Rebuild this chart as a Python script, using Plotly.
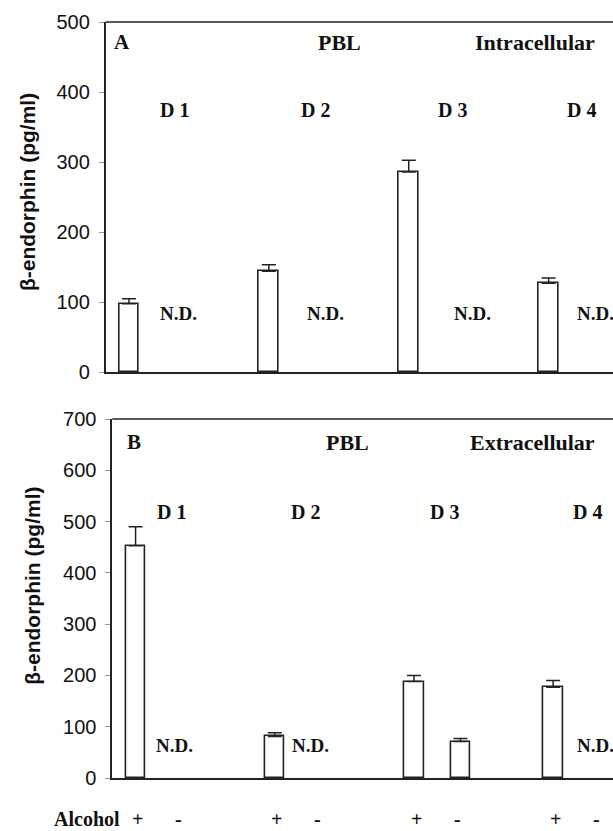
import plotly.graph_objects as go

# ---------------- data ----------------
donors = ["D 1", "D 2", "D 3", "D 4"]
alcohol_labels = ["+", "-"]

# Panel A: intracellular (alcohol - : not detected)
intra_plus = [97.6, 143.8, 285.7, 126.7]
intra_plus_err = [7.2, 9.5, 16.7, 7.6]
intra_minus = [None, None, None, None]
intra_minus_err = [0, 0, 0, 0]

# Panel B: extracellular
extra_plus = [453, 81, 188, 177]
extra_plus_err = [37, 7, 12, 13]
extra_minus = [None, None, 71, None]
extra_minus_err = [0, 0, 6, 0]

# ---------------- layout constants ----------------
W, H = 613, 831
INK = "#222222"
SERIF = "Liberation Serif, Times New Roman, serif"
SANS = "Liberation Sans, Arial, sans-serif"
MINUS_OFF = 0.334
BAR_W = 0.14

gx = list(range(len(donors)))
plus_x = [g for g in gx]
minus_x = [g + MINUS_OFF for g in gx]


def px_x(p):
    return p / W


def px_y(p):
    return 1 - p / H


# panel pixel frames (left, top, bottom)
A_left, A_top, A_bot = 105.6, 22, 372
B_left, B_top, B_bot = 112.2, 419, 778
A_range = [-0.167, 3.46]
B_range = [-0.168, 3.43]

fig = go.Figure()


def add_bars(xa, ya, plus, plus_err, minus, minus_err):
    for xs, vals, errs in ((plus_x, plus, plus_err), (minus_x, minus, minus_err)):
        fig.add_trace(go.Bar(
            x=xs, y=vals, width=BAR_W, xaxis=xa, yaxis=ya,
            marker=dict(color="white", line=dict(color=INK, width=1.6)),
            error_y=dict(type="data", array=errs, arrayminus=[0] * len(errs),
                         symmetric=False, color=INK, thickness=1.5, width=7),
            showlegend=False, hoverinfo="y",
        ))


add_bars("x", "y", intra_plus, intra_plus_err, intra_minus, intra_minus_err)
add_bars("x2", "y2", extra_plus, extra_plus_err, extra_minus, extra_minus_err)

axis_common = dict(showgrid=False, zeroline=False, showline=True,
                   linecolor=INK, linewidth=1.6, automargin=False)
yaxis_common = dict(axis_common, ticks="outside", ticklen=5, tickcolor="#999999",
                    tickwidth=1, tickfont=dict(family=SANS, size=20, color="#111"),
                    ticklabelstandoff=5)

fig.update_layout(
    width=W, height=H,
    margin=dict(l=0, r=0, t=0, b=0, autoexpand=False),
    paper_bgcolor="white", plot_bgcolor="white",
    bargap=0, showlegend=False,
    xaxis=dict(axis_common, domain=[px_x(A_left), 1], range=A_range,
               showticklabels=False, ticks="", anchor="y"),
    yaxis=dict(yaxis_common, domain=[px_y(A_bot), px_y(A_top)], range=[0, 500],
               tickvals=[0, 100, 200, 300, 400, 500], anchor="x"),
    xaxis2=dict(axis_common, domain=[px_x(B_left), 1], range=B_range,
                showticklabels=False, ticks="", anchor="y2"),
    yaxis2=dict(yaxis_common, domain=[px_y(B_bot), px_y(B_top)], range=[0, 700],
                tickvals=[0, 100, 200, 300, 400, 500, 600, 700], anchor="x2"),
)

# top frame lines
for left, top in ((A_left, A_top), (B_left, B_top)):
    fig.add_shape(type="line", xref="paper", yref="paper",
                  x0=px_x(left), x1=1, y0=px_y(top), y1=px_y(top),
                  line=dict(color=INK, width=1.6))

ann = []


def txt(text, x, y, xr, yr, size, xanchor="center", family=SERIF, angle=0):
    ann.append(dict(text=text, x=x, y=y, xref=xr, yref=yr, showarrow=False,
                    xanchor=xanchor, yanchor="middle", textangle=angle,
                    font=dict(family=family, size=size, color="#111")))


def b_to_paper(xv):
    frac = (xv - B_range[0]) / (B_range[1] - B_range[0])
    return px_x(B_left) + frac * (1 - px_x(B_left))


# Panel A texts
txt("<b>A</b>", -0.05, 471, "x", "y", 21)
txt("<b>PBL</b>", 1.508, 471, "x", "y", 22)
txt("<b>Intracellular</b>", 2.902, 471, "x", "y", 22)
for lbl, xx in zip(donors, [0.329, 1.33, 2.316, 3.238]):
    txt("<b>%s</b>" % lbl, xx, 374, "x", "y", 20)
for xx in [0.357, 1.408, 2.459]:
    txt("<b>N.D.</b>", xx, 84, "x", "y", 19)
txt("<b>N.D.</b>", 3.19, 84, "x", "y", 19, xanchor="left")

# Panel B texts
txt("<b>B</b>", -0.011, 655, "x2", "y2", 21)
txt("<b>PBL</b>", 1.526, 655, "x2", "y2", 22)
txt("<b>Extracellular</b>", 2.855, 655, "x2", "y2", 22)
for lbl, xx in zip(donors, [0.261, 1.224, 2.219, 3.25]):
    txt("<b>%s</b>" % lbl, xx, 519, "x2", "y2", 20)
for v, xx in zip(extra_minus, [0.283, 1.26, None, 3.155]):
    if v is None and xx is not None:
        anchor = "left" if xx > 3 else "center"
        txt("<b>N.D.</b>", xx, 63, "x2", "y2", 19, xanchor=anchor)

# Alcohol row (below the lower panel)
row_y = px_y(819)
txt("<b>Alcohol</b>", b_to_paper(-0.349), row_y, "paper", "paper", 20)
for g in gx:
    txt("<b>%s</b>" % alcohol_labels[0], b_to_paper(g + 0.015), row_y, "paper", "paper", 20)
    txt("<b>%s</b>" % alcohol_labels[1], b_to_paper(g + 0.31), row_y, "paper", "paper", 20)

# y-axis titles
txt("<b>β-endorphin (pg/ml)</b>", px_x(27.4), px_y(191.7), "paper", "paper", 21,
    family=SANS, angle=-90)
txt("<b>β-endorphin (pg/ml)</b>", px_x(33), px_y(585.8), "paper", "paper", 21,
    family=SANS, angle=-90)

fig.update_layout(annotations=ann)
fig.write_html("out.html",
               config={"displayModeBar": False},
               post_script="document.body.style.margin='0';"
                           "document.body.style.overflow='hidden';")
